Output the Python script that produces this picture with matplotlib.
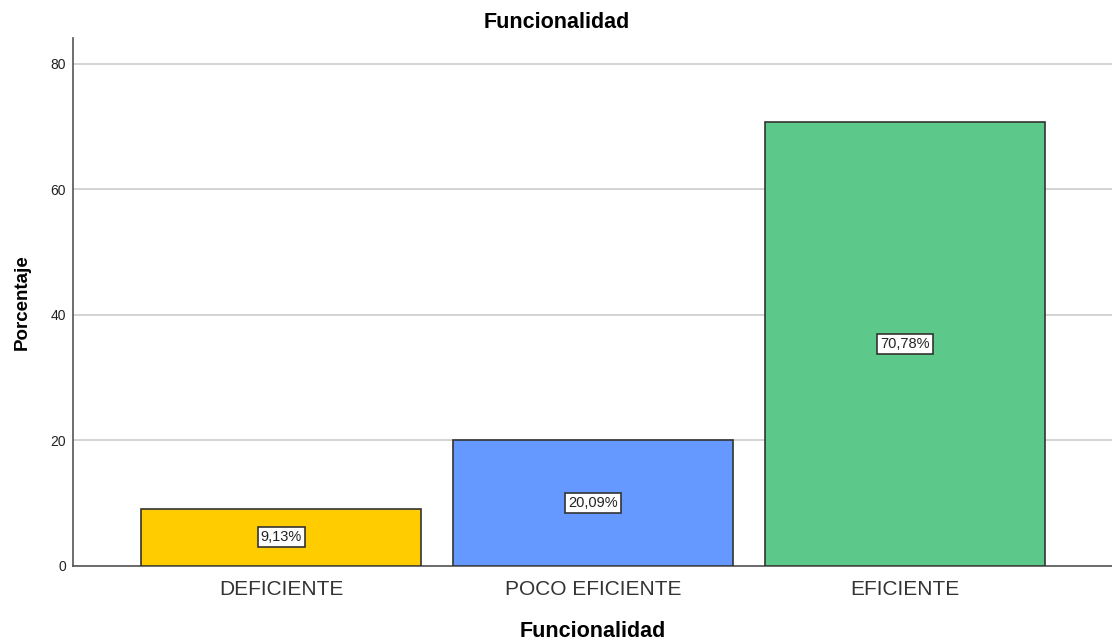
import matplotlib
matplotlib.use("Agg")
import matplotlib.pyplot as plt

categories = ["DEFICIENTE", "POCO EFICIENTE", "EFICIENTE"]
values = [9.13, 20.09, 70.78]
labels = ["9,13%", "20,09%", "70,78%"]
colors = ["#FFCC00", "#6699FF", "#5CC98A"]
yticks = [0, 20, 40, 60, 80]

plt.rcParams['font.family'] = ['Liberation Sans', 'DejaVu Sans']

fig = plt.figure(figsize=(11.12, 6.43), dpi=100)
ax = fig.add_axes([0.0656, 0.1198, 0.9344, 0.8211])

x = list(range(len(categories)))
ax.bar(x, values, width=0.897, color=colors, edgecolor="#333333", linewidth=1.2, zorder=3)
for xi, v, lab in zip(x, values, labels):
    ax.text(xi, v / 2, lab, ha="center", va="center", fontsize=10.5, color="#222222", zorder=4,
            bbox=dict(boxstyle="square,pad=0.2", facecolor="white", edgecolor="#333333", linewidth=1.2))

ax.set_xlim(-0.667, 2.663)
ax.set_ylim(0, 84.1)
ax.set_yticks(yticks)
ax.set_yticklabels([str(t) for t in yticks], fontsize=10, color="#222222")
ax.set_xticks(x)
ax.set_xticklabels(categories, fontsize=15, color="#333333")
ax.tick_params(axis="x", length=0, pad=10)
ax.tick_params(axis="y", length=0, pad=5)
ax.yaxis.grid(True, color="#D0D0D0", linewidth=1.3, zorder=0)
ax.set_axisbelow(True)
for s in ["top", "right"]:
    ax.spines[s].set_visible(False)
for s in ["left", "bottom"]:
    ax.spines[s].set_color("#555555")
    ax.spines[s].set_linewidth(1.2)

ax.set_xlabel("Funcionalidad", fontsize=15.5, fontweight="bold", labelpad=16)
ax.set_ylabel("Porcentaje", fontsize=13.5, fontweight="bold", labelpad=14)
fig.text(0.501, 0.965, "Funcionalidad", ha="center", va="center", fontsize=15.5, fontweight="bold")

fig.savefig("out.png", dpi=100)
